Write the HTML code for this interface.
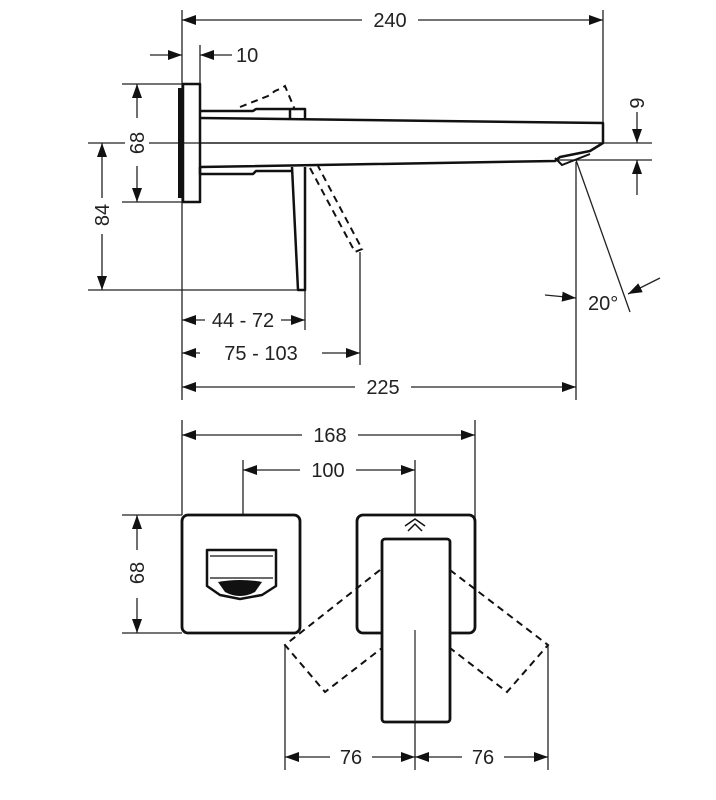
<!DOCTYPE html>
<html><head><meta charset="utf-8"><style>body{margin:0;background:#fff}svg{display:block}text{font-family:"Liberation Sans",sans-serif;font-size:20px;fill:#222}</style></head><body>
<svg width="716" height="800" viewBox="0 0 716 800" xmlns="http://www.w3.org/2000/svg">
<defs><marker id="a" viewBox="0 0 14 10" refX="14" refY="5" markerWidth="14" markerHeight="10" markerUnits="userSpaceOnUse" orient="auto-start-reverse"><path d="M0,0L14,5L0,10z" fill="#111"/></marker></defs>
<g stroke="#222" stroke-width="1.3" fill="none">
<path d="M182,10V400M603,10V122M200,45V84M122,84H182M122,202H182M88,143H600M88,290H305M305,168V330M360,252V365M576,162V400M555,143H652M555,160H652M576,160L630,312"/>
<line x1="182" y1="20" x2="603" y2="20" marker-start="url(#a)" marker-end="url(#a)"/>
<line x1="150" y1="55" x2="182" y2="55" marker-end="url(#a)"/>
<line x1="232" y1="55" x2="200" y2="55" marker-end="url(#a)"/>
<line x1="137" y1="84" x2="137" y2="202" marker-start="url(#a)" marker-end="url(#a)"/>
<line x1="102" y1="143" x2="102" y2="290" marker-start="url(#a)" marker-end="url(#a)"/>
<line x1="182" y1="320" x2="305" y2="320" marker-start="url(#a)" marker-end="url(#a)"/>
<line x1="182" y1="353" x2="360" y2="353" marker-start="url(#a)" marker-end="url(#a)"/>
<line x1="182" y1="387" x2="576" y2="387" marker-start="url(#a)" marker-end="url(#a)"/>
<line x1="637" y1="112" x2="637" y2="143" marker-end="url(#a)"/>
<line x1="637" y1="195" x2="637" y2="160" marker-end="url(#a)"/>
<line x1="545" y1="295" x2="576" y2="298" marker-end="url(#a)"/>
<line x1="660" y1="278" x2="628" y2="294" marker-end="url(#a)"/>
<path d="M182,420V515M475,420V520M243,460V545M415,460V530M122,515H182M122,633H182M285,645V770M415,630V770M548,645V770"/>
<line x1="182" y1="435" x2="475" y2="435" marker-start="url(#a)" marker-end="url(#a)"/>
<line x1="243" y1="470" x2="415" y2="470" marker-start="url(#a)" marker-end="url(#a)"/>
<line x1="137" y1="515" x2="137" y2="633" marker-start="url(#a)" marker-end="url(#a)"/>
<line x1="285" y1="757" x2="415" y2="757" marker-start="url(#a)" marker-end="url(#a)"/>
<line x1="415" y1="757" x2="548" y2="757" marker-start="url(#a)" marker-end="url(#a)"/>
</g>
<g fill="#fff"><rect x="362" y="8" width="56" height="24"/><rect x="125" y="118" width="24" height="48"/><rect x="90" y="198" width="24" height="36"/><rect x="205" y="308" width="76" height="24"/><rect x="200" y="341" width="122" height="24"/><rect x="355" y="375" width="56" height="24"/><rect x="302" y="423" width="56" height="24"/><rect x="300" y="458" width="56" height="24"/><rect x="125" y="550" width="24" height="48"/><rect x="330" y="745" width="42" height="24"/><rect x="462" y="745" width="42" height="24"/></g>
<g>
<text x="390" y="27" text-anchor="middle">240</text>
<text x="236" y="62">10</text>
<text x="330" y="442" text-anchor="middle">168</text>
<text x="328" y="477" text-anchor="middle">100</text>
<text x="243" y="327" text-anchor="middle">44 - 72</text>
<text x="261" y="360" text-anchor="middle">75 - 103</text>
<text x="383" y="394" text-anchor="middle">225</text>
<text x="351" y="764" text-anchor="middle">76</text>
<text x="483" y="764" text-anchor="middle">76</text>
<text x="588" y="310">20°</text>
<text transform="translate(144,143) rotate(-90)" text-anchor="middle">68</text>
<text transform="translate(109,215) rotate(-90)" text-anchor="middle">84</text>
<text transform="translate(644,103) rotate(-90)" text-anchor="middle">9</text>
<text transform="translate(144,573) rotate(-90)" text-anchor="middle">68</text>
</g>
<g stroke="#111" stroke-width="2.5" fill="none" stroke-linejoin="round">
<rect x="183" y="84" width="17" height="118"/>
<path d="M180,88V198" stroke-width="4"/>
<path d="M200,111H253L256,109H290V118M290,109H305V118"/>
<path d="M200,118L603,123V143L590,151L560,157L555,161L200,167"/>
<path d="M200,143L603,143" stroke-width="1.3"/>
<path d="M200,167V174H253L256,171H292"/>
<path d="M292,167L298,290H305L305,167"/>
<path d="M555,158L562,165L590,154" stroke-width="2"/>
</g>
<g stroke="#111" stroke-width="2" fill="none" stroke-dasharray="7,5">
<path d="M240,107L268,96L275,91L282,88L285,86L295,110"/>
<path d="M310,168L355,252L362,249L318,166"/>
</g>
<g stroke="#111" stroke-width="2.8" fill="#fff" stroke-linejoin="round">
<rect x="182" y="515" width="118" height="118" rx="6"/>
<rect x="357" y="515" width="118" height="118" rx="6"/>
</g>
<g stroke="#111" stroke-width="2" fill="none" stroke-dasharray="7,5">
<path d="M380,570L285,645L325,692L382,648"/>
<path d="M450,570L548,645L507,692L450,648"/>
</g>
<g stroke="#111" stroke-width="2.8" fill="#fff" stroke-linejoin="round">
<rect x="382" y="539" width="68" height="183" rx="3"/>
<path d="M207,550H276V586L262,595L240,599L220,595L207,586Z" stroke-width="2.5"/>
</g>
<path d="M210,556H273M210,578H273" stroke="#111" stroke-width="1.3"/>
<path d="M218,582Q240,578 262,582L255,592Q240,600 225,592Z" fill="#111"/>
<path d="M405,526L415,519L425,526M408,531L415,524L422,531" stroke="#111" stroke-width="1.5" fill="none"/>
<path d="M415,630V722" stroke="#222" stroke-width="1.2"/>
</svg>
</body></html>
